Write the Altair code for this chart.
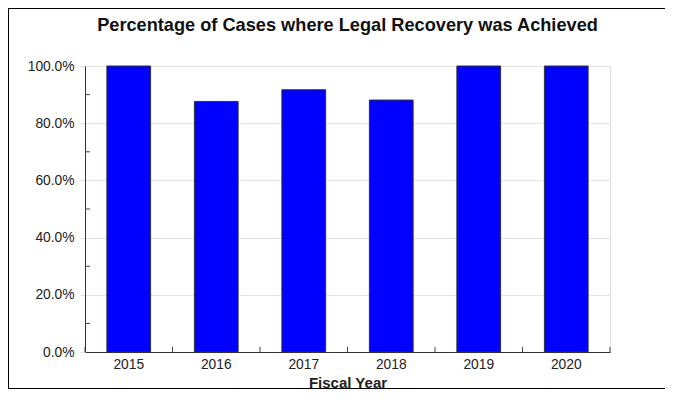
import altair as alt
import pandas as pd

years = ["2015", "2016", "2017", "2018", "2019", "2020"]
pct = [1.0, 0.876, 0.917, 0.881, 1.0, 1.0]
major_ticks = [0.0, 0.2, 0.4, 0.6, 0.8, 1.0]
minor_ticks = [0.1, 0.3, 0.5, 0.7, 0.9]
x_boundaries = [0, 1, 2, 3, 4, 5, 6]
title_text = ["Percentage of Cases where Legal Recovery was Achieved"]

W, H = 525, 286
PT, PB, PL, PR = 58, 37, 77, 55
FONT = "Liberation Sans"

df = pd.DataFrame({"year": years, "pct": pct})
minor_df = pd.DataFrame({"v": minor_ticks})
bound_df = pd.DataFrame({"b": x_boundaries})
title_df = pd.DataFrame({"t": title_text})

bars = alt.Chart(df).mark_bar(color="#0000FF", stroke="#333333", strokeWidth=1).encode(
    x=alt.X("year:N", title="Fiscal Year",
            scale=alt.Scale(paddingInner=0.5, paddingOuter=0.25),
            axis=alt.Axis(labelAngle=0, ticks=False, tickSize=0, labelPadding=5,
                          labelFontSize=13.8, labelColor="#222222", labelFont=FONT,
                          titleFont=FONT, titleFontSize=15, titleFontWeight="bold",
                          titleColor="#222222", titleBaseline="alphabetic", titleY=35,
                          domainColor="#333333", grid=False)),
    y=alt.Y("pct:Q", title=None,
            scale=alt.Scale(domain=[0, 1], nice=False),
            axis=alt.Axis(values=major_ticks, format=".1%", tickSize=5, tickColor="#dddddd",
                          labelPadding=6, labelFontSize=13.8, labelColor="#222222",
                          labelFont=FONT, domainColor="#333333",
                          grid=True, gridColor="#e3e3e3")),
)

minor = alt.Chart(minor_df).mark_rule(color="#444444").encode(
    y=alt.Y("v:Q", scale=alt.Scale(domain=[0, 1], nice=False)),
    x=alt.value(0), x2=alt.value(5),
)

xticks = alt.Chart(bound_df).mark_rule(color="#444444").encode(
    x=alt.X("b:Q", scale=alt.Scale(domain=[0, 6], nice=False), axis=None),
    y=alt.value(H), y2=alt.value(H - 5),
)

title = alt.Chart(title_df).mark_text(
    font=FONT, fontSize=18.2, fontWeight="bold", color="#111111",
    align="center", baseline="alphabetic", clip=False,
).encode(text="t:N", x=alt.value(W / 2), y=alt.value(-35))

border_top = alt.Chart(bound_df).mark_rule(color="#000000", clip=False).encode(
    x=alt.value(-PL), x2=alt.value(W + PR), y=alt.value(-PT + 0.5))
border_left = alt.Chart(bound_df).mark_rule(color="#000000", clip=False).encode(
    x=alt.value(-PL + 0.5), y=alt.value(-PT), y2=alt.value(H + PB))
border_bottom = alt.Chart(bound_df).mark_rule(color="#000000", clip=False).encode(
    x=alt.value(-PL), x2=alt.value(W + PR), y=alt.value(H + PB - 0.5))

chart = alt.layer(bars, minor, xticks, title, border_top, border_left, border_bottom).resolve_scale(
    x="independent"
).properties(
    width=W, height=H,
    autosize=alt.AutoSizeParams(type="none"),
    padding={"left": PL, "top": PT, "right": PR, "bottom": PB},
).configure_view(stroke=None).configure(background="white")

chart.save("out.html", embed_options={"renderer": "svg", "actions": False})
